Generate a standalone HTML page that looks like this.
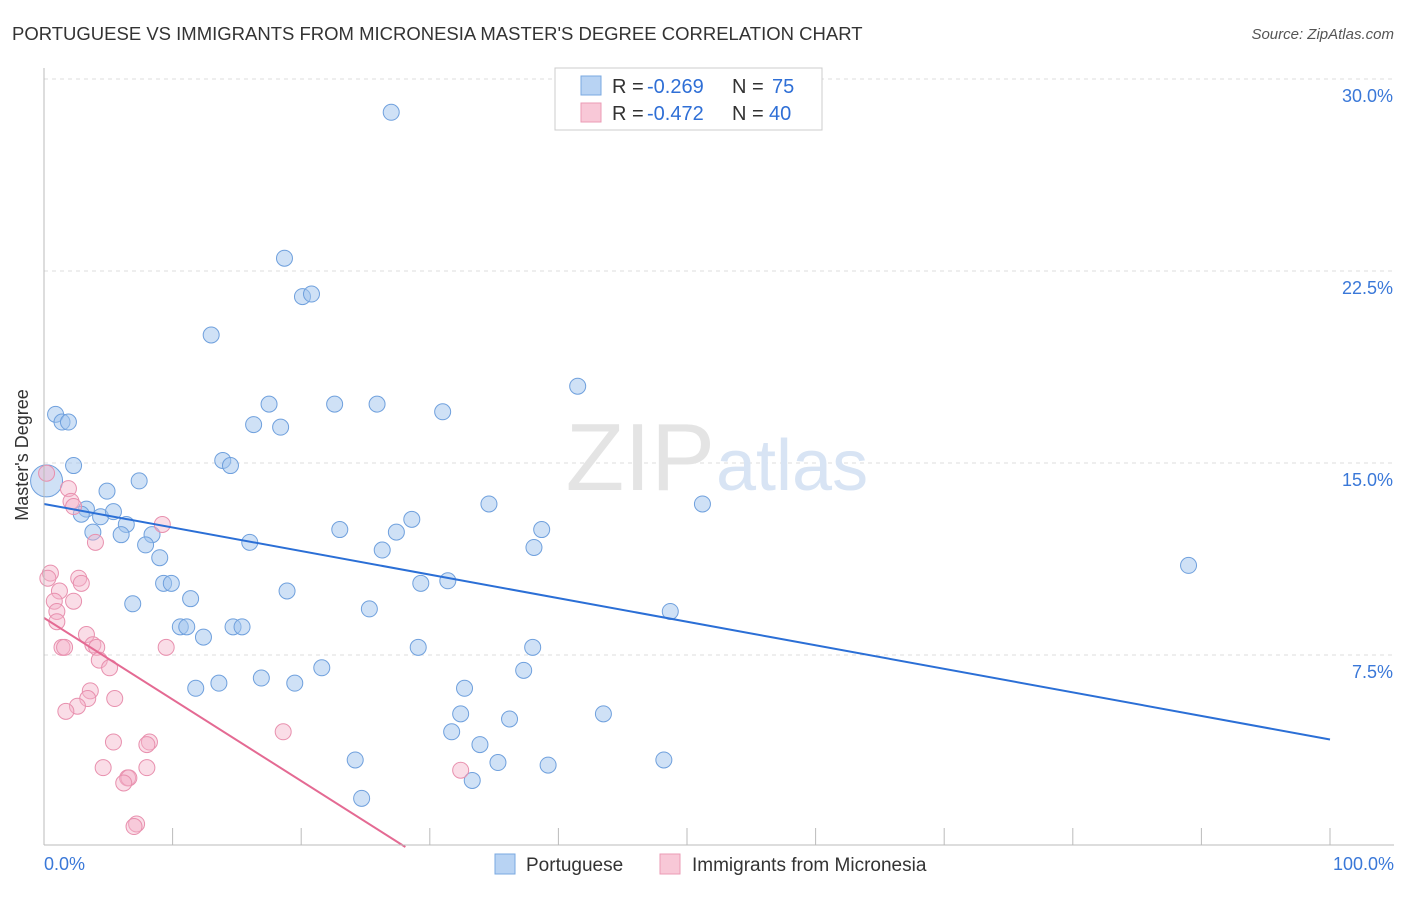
<!DOCTYPE html>
<html><head><meta charset="utf-8">
<style>
body{margin:0;background:#fff;font-family:"Liberation Sans",sans-serif;}
svg text{font-family:"Liberation Sans",sans-serif;}
</style></head>
<body>
<svg id="chart" width="1406" height="892" xmlns="http://www.w3.org/2000/svg">
<text x="12" y="40" font-size="18.5" fill="#333">PORTUGUESE VS IMMIGRANTS FROM MICRONESIA MASTER'S DEGREE CORRELATION CHART</text>
<text x="1394" y="39" font-size="15" fill="#555" font-style="italic" text-anchor="end">Source: ZipAtlas.com</text>
<g id="grid"></g>
<text x="715" y="490" font-size="96" fill="#e4e4e4" text-anchor="end" font-family="Liberation Serif">ZIP</text>
<text x="716" y="490" font-size="72" fill="#d8e4f4">atlas</text>
<g id="pts"></g>
<g id="axes"></g>
<text x="28" y="455" font-size="18" fill="#333" text-anchor="middle" transform="rotate(-90 28 455)">Master's Degree</text>
<g>
<rect x="555" y="68" width="267" height="62" fill="#fff" stroke="#ccc"/>
<rect x="581" y="76" width="20" height="19" fill="#b8d3f3" stroke="#7aa8e0"/>
<text x="612" y="93" font-size="20" fill="#333">R =</text>
<text x="647" y="93" font-size="20" fill="#2f6fd6">-0.269</text>
<text x="732" y="93" font-size="20" fill="#333">N =</text>
<text x="772" y="93" font-size="20" fill="#2f6fd6">75</text>
<rect x="581" y="103" width="20" height="19" fill="#f8c8d7" stroke="#eb9bb6"/>
<text x="612" y="120" font-size="20" fill="#333">R =</text>
<text x="647" y="120" font-size="20" fill="#2f6fd6">-0.472</text>
<text x="732" y="120" font-size="20" fill="#333">N =</text>
<text x="769" y="120" font-size="20" fill="#2f6fd6">40</text>
</g>
<g>
<rect x="495" y="854" width="20" height="20" fill="#b8d3f3" stroke="#7aa8e0"/>
<text x="526" y="871" font-size="19" fill="#333">Portuguese</text>
<rect x="660" y="854" width="20" height="20" fill="#f8c8d7" stroke="#eb9bb6"/>
<text x="692" y="871" font-size="19" fill="#333">Immigrants from Micronesia</text>
</g>
</svg>
<script>
const yTicks=[7.5,15,22.5,30];
const yTickLabels=["7.5%","15.0%","22.5%","30.0%"];
const xLabels=["0.0%","100.0%"];
const blueX=[27,18.7,20.1,20.8,13,41.5,0.9,1.4,1.9,17.5,22.6,25.9,31,16.3,18.4,13.9,14.5,2.3,4.9,7.4,3.3,2.9,4.4,5.4,6.4,3.8,6,8.4,7.9,16,23,27.4,28.6,34.6,38.7,38.1,26.3,9,51.2,89,9.3,9.9,29.3,31.4,6.9,11.4,18.9,25.3,48.7,10.6,11.1,14.7,15.4,12.4,29.1,38,21.6,37.3,16.9,19.5,13.6,11.8,32.7,32.4,43.5,36.2,31.7,33.9,24.2,35.3,39.2,48.2,33.3,24.7,0.2];
const blueY=[28.7,23,21.5,21.6,20,18,16.9,16.6,16.6,17.3,17.3,17.3,17,16.5,16.4,15.1,14.9,14.9,13.9,14.3,13.2,13,12.9,13.1,12.6,12.3,12.2,12.2,11.8,11.9,12.4,12.3,12.8,13.4,12.4,11.7,11.6,11.3,13.4,11,10.3,10.3,10.3,10.4,9.5,9.7,10,9.3,9.2,8.6,8.6,8.6,8.6,8.2,7.8,7.8,7,6.9,6.6,6.4,6.4,6.2,6.2,5.2,5.2,5,4.5,4,3.4,3.3,3.2,3.4,2.6,1.9,14.3];
const pinkX=[0.2,1.9,2.1,2.3,4,9.2,0.5,0.3,2.7,2.9,1.2,2.3,0.8,1,1,3.3,1.4,1.6,3.8,4.1,4.3,5.1,9.5,3.6,3.4,5.5,2.6,1.7,18.6,5.4,8.2,8,4.6,8,6.5,6.6,6.2,32.4,7.2,7];
const pinkY=[14.6,14,13.5,13.3,11.9,12.6,10.7,10.5,10.5,10.3,10,9.6,9.6,9.2,8.8,8.3,7.8,7.8,7.9,7.8,7.3,7,7.8,6.1,5.8,5.8,5.5,5.3,4.5,4.1,4.1,4,3.1,3.1,2.7,2.7,2.5,3,0.9,0.8];
const blueLine=[13.4,4.2];
const pinkLine=[8.95,0,28.1];
const NS="http://www.w3.org/2000/svg";
const sx=v=>44+v*12.86, sy=v=>847-v*25.6;
function mk(t,a,p){const e=document.createElementNS(NS,t);for(const k in a)e.setAttribute(k,a[k]);p.appendChild(e);return e;}
const grid=document.getElementById('grid'),axes=document.getElementById('axes'),pts=document.getElementById('pts');
yTicks.forEach((v,i)=>{
 const l=mk('line',{x1:44,x2:1394,y1:sy(v),y2:sy(v),stroke:'#ddd','stroke-dasharray':'4,4'},grid);
 
 
 const t=mk('text',{x:1393,y:sy(v)+23,'font-size':18,fill:'#3a78d8','text-anchor':'end'},axes);
 t.textContent=yTickLabels[i];
 
 
});
mk('line',{x1:44,x2:44,y1:68,y2:845,stroke:'#bbb'},axes);
mk('line',{x1:44,x2:1394,y1:845,y2:845,stroke:'#bbb'},axes);
for(let i=0;i<=10;i++){const tk=mk('line',{x1:sx(i*10),x2:sx(i*10),y1:828,y2:845,stroke:'#bbb'},axes);
 
 }
[[0,'start',44],[100,'end',1394]].forEach((a,i)=>{const t=mk('text',{x:a[2],y:870,'font-size':18,fill:'#3a78d8','text-anchor':a[1]},axes);t.textContent=xLabels[i];
 
 });
blueX.forEach((x,i)=>{const c=mk('circle',{cx:sx(x),cy:sy(blueY[i]),r:i==blueX.length-1?16:8,fill:'rgba(160,195,238,0.5)',stroke:'#6fa0dd','stroke-width':1},pts);
 
 });
pinkX.forEach((x,i)=>{const c=mk('circle',{cx:sx(x),cy:sy(pinkY[i]),r:8,fill:'rgba(245,180,202,0.45)',stroke:'#e890ae','stroke-width':1},pts);
 
 });
const bl=mk('line',{x1:sx(0),y1:sy(blueLine[0]),x2:sx(100),y2:sy(blueLine[1]),stroke:'#2b6fd6','stroke-width':2},pts);


const pl=mk('line',{x1:sx(0),y1:sy(pinkLine[0]),x2:sx(pinkLine[2]),y2:sy(pinkLine[1]),stroke:'#e46a93','stroke-width':2},pts);


</script>
</body></html>
